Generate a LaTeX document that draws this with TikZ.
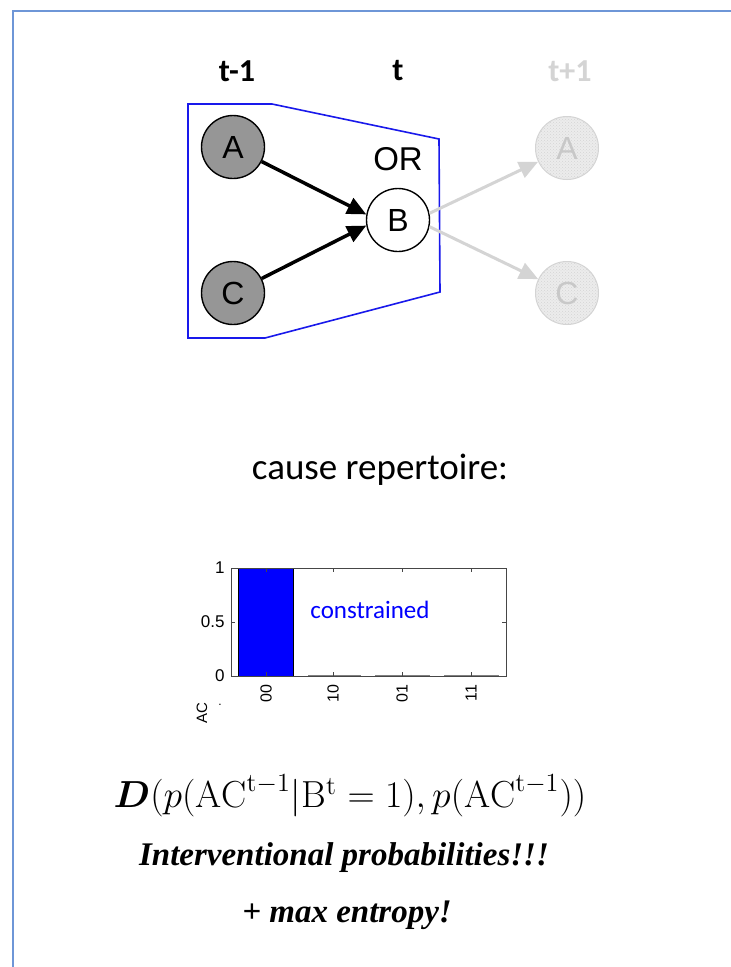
\documentclass[tikz,border=0pt]{standalone}
\usepackage{amsmath}
\usepackage{fontspec}
\newfontfamily\calfont{Carlito}
\newfontfamily\arialfont{Liberation Sans}
\newfontfamily\timesfont{Liberation Serif}
\usetikzlibrary{arrows.meta,patterns}
\definecolor{framecol}{RGB}{110,150,215}
\definecolor{polyblue}{RGB}{25,25,235}
\definecolor{nodegray}{RGB}{150,150,150}
\definecolor{ghostline}{RGB}{212,212,212}
\definecolor{ghostfill}{RGB}{236,236,236}
\definecolor{ghosttext}{RGB}{200,200,200}
\definecolor{axiscol}{RGB}{70,70,70}
\tikzset{
  tlabel/.style={font=\calfont\bfseries\fontsize{32}{34}\selectfont},
  unit/.style={circle, minimum size=63pt, inner sep=0pt, draw=black, line width=1.4pt,
    font=\arialfont\fontsize{32}{34}\selectfont},
  past/.style={unit, fill=nodegray},
  ghostunit/.style={circle, minimum size=63pt, inner sep=0pt, draw=ghostline, line width=1pt,
    preaction={fill=ghostfill}, pattern=crosshatch dots, pattern color=ghostline,
    text=ghosttext, font=\arialfont\fontsize{32}{34}\selectfont},
  causal/.style={line width=3.5pt, -{Triangle[length=19pt,width=17pt]}},
  ghostarrow/.style={ghostline, line width=3pt, -{Triangle[length=19pt,width=17pt]}},
  ticklab/.style={font=\arialfont\fontsize{17}{18}\selectfont},
  catlab/.style={font=\arialfont\fontsize{16}{17}\selectfont, rotate=90, anchor=east},
}
\begin{document}
\begin{tikzpicture}[x=1pt,y=-1pt]
\useasboundingbox (0,0) rectangle (731,967);
\fill[white] (0,0) rectangle (731,967);
\draw[framecol, line width=1.5pt] (731,11) -- (13,11) -- (13,967);

% time labels
\node[tlabel] (tm1) at (237,71) {t-1};
\node[tlabel] (tt) at (398,71) {t};
\node[tlabel, text=ghostline] (tp1) at (570,71) {t+1};

% blue mechanism polygon
\draw[polyblue, line width=1.6pt] (188,104) -- (272,104) -- (439,139) -- (440,292) -- (265,338) -- (188,338) -- cycle;

% nodes
\node[past] (A) at (233,147) {A};
\node[past] (C) at (233,293) {C};
\node[unit, fill=white] (B) at (398,220) {B};
\node[font=\arialfont\fontsize{33}{34}\selectfont] (OR) at (398,159) {OR};
\node[ghostunit] (A2) at (567,148) {A};
\node[ghostunit] (C2) at (567,293) {C};

\draw[ghostarrow] (B.12) -- (A2);
\draw[ghostarrow] (B.-12) -- (C2);
\draw[causal] (A) -- (B.170);
\draw[causal] (C) -- (B.190);

% cause repertoire
\node[font=\calfont\fontsize{37}{40}\selectfont] (cr) at (380,470) {cause repertoire:};

% bar chart
\fill[blue] (238,568) rectangle (293,676);
\draw[black, line width=1pt] (238,568) rectangle (293,676);
\draw[gray, line width=2.5pt] (308,676) -- (361,676);
\draw[gray, line width=2.5pt] (375,676) -- (430,676);
\draw[gray, line width=2.5pt] (444,676) -- (499,676);
\draw[axiscol, line width=0.9pt] (231,568) rectangle (506,676);
\foreach \x in {266,333,402,471} {
  \draw[axiscol, line width=0.8pt] (\x,568) -- (\x,572);
  \draw[axiscol, line width=0.8pt] (\x,676) -- (\x,672);
}
\foreach \y in {568,622,676} {
  \draw[axiscol, line width=0.8pt] (231,\y) -- (235,\y);
  \draw[axiscol, line width=0.8pt] (506,\y) -- (502,\y);
}
\node[ticklab, anchor=east] (y1) at (228,568) {1};
\node[ticklab, anchor=east] (y05) at (228,622) {0.5};
\node[ticklab, anchor=east] (y0) at (228,676) {0};
\node[catlab] (c00) at (266,681) {00};
\node[catlab] (c10) at (333,681) {10};
\node[catlab] (c01) at (402,681) {01};
\node[catlab] (c11) at (471,681) {11};
\node[font=\arialfont\fontsize{15}{16}\selectfont, rotate=90] (ac) at (202,713) {AC};
\node[font=\arialfont\fontsize{12}{12}\selectfont, inner sep=0pt] (acdot) at (220,705) {.};
\node[font=\calfont\fontsize{25}{28}\selectfont, text=blue] (con) at (370,610) {constrained};

% formula
\node (form) at (350,796)
  {\scalebox{2.18}{\LARGE$\boldsymbol{D}(p(\mathrm{AC}^{\mathrm{t}-1}|\mathrm{B}^{\mathrm{t}}=1),p(\mathrm{AC}^{\mathrm{t}-1}))$}};

% remarks
\node[font=\timesfont\bfseries\itshape\fontsize{33}{36}\selectfont] (int) at (344,858) {Interventional probabilities!!!};
\node[font=\timesfont\bfseries\itshape\fontsize{33}{36}\selectfont] (ment) at (347,915) {+ max entropy!};
\end{tikzpicture}
\end{document}
